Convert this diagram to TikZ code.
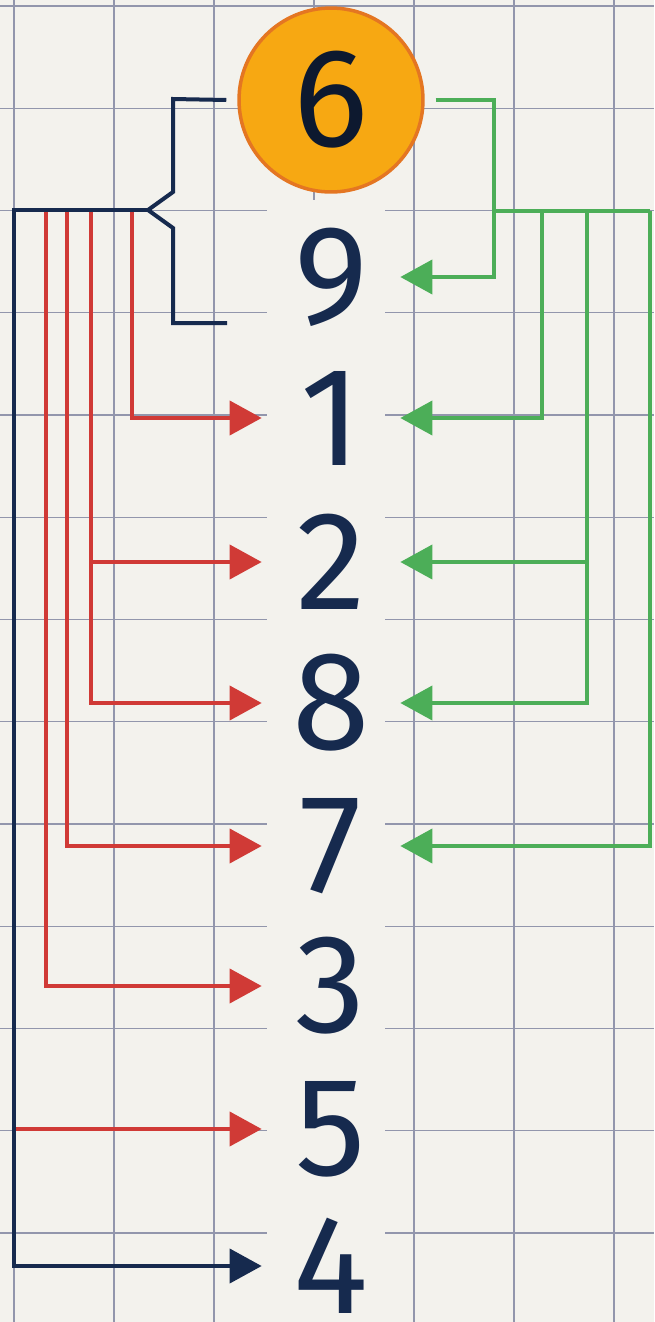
\documentclass[tikz,border=0pt]{standalone}
\usepackage{fontspec}
\setmainfont{Fira Sans}
\usetikzlibrary{positioning,arrows.meta,calc}
\definecolor{paper}{RGB}{243,242,237}
\definecolor{gridc}{RGB}{146,150,172}
\definecolor{navy}{RGB}{22,42,78}
\definecolor{arred}{RGB}{208,58,54}
\definecolor{argreen}{RGB}{76,174,88}
\definecolor{dotfill}{RGB}{247,168,18}
\definecolor{dotrim}{RGB}{228,118,34}
\tikzset{
  redarr/.style={-{Triangle[length=0.64cm,width=0.68cm]},line width=0.08cm,draw=arred},
  greenarr/.style={-{Triangle[length=0.64cm,width=0.68cm]},line width=0.08cm,draw=argreen},
  navyarr/.style={-{Triangle[length=0.64cm,width=0.68cm]},line width=0.08cm,draw=navy},
  gridline/.style={draw=gridc,line width=0.028cm},
  digit/.style={inner sep=0pt,minimum width=2.76cm,minimum height=1cm,text=navy,
                font=\fontsize{80}{82}\selectfont},
  topdigit/.style={circle,inner sep=0pt,minimum size=3.68cm,fill=dotfill,draw=dotrim,
                   line width=0.07cm,text=navy!60!black,font=\fontsize{80}{82}\selectfont}
}
\begin{document}
\begin{tikzpicture}[x=0.02cm,y=-0.02cm]
\useasboundingbox (0,0) rectangle (654,1322);
\fill[paper] (0,0) rectangle (654,1322);
% squared paper
\foreach \x in {14,114,...,614} \draw[gridline] (\x,0) -- (\x,1322);
\foreach \i in {0,...,12} \draw[gridline] (0,{6+102.25*\i}) -- (654,{6+102.25*\i});
\fill[paper] (267,200) rectangle (385,1322);

% the numbers
\node[topdigit] (n6) at (331,100) {6};
\node[digit] (n9) at (331,277) {9};
\node[digit] (n1) at (331,418) {1};
\node[digit] (n2) at (331,562) {2};
\node[digit] (n8) at (331,703) {8};
\node[digit] (n7) at (331,846) {7};
\node[digit] (n3) at (331,986) {3};
\node[digit] (n5) at (331,1129) {5};
\node[digit] (n4) at (331,1266) {4};

% left side
\coordinate (hub) at (148,210);
\coordinate (lft) at (14,210);
\coordinate (brtop) at ($(n6.west)+(-11,0)$);
\coordinate (brbot) at (227,323);
\foreach \x [count=\i] in {132,91,67,46} \coordinate (rb\i) at (\x,210);

\draw[redarr] (rb1) |- (n1.west);
\draw[redarr] (rb2 |- n2.west) -- (n2.west);
\draw[redarr] (rb2) |- (n8.west);
\draw[redarr] (rb3) |- (n7.west);
\draw[redarr] (rb4) |- (n3.west);
\draw[redarr] (lft |- n5.west) -- (n5.west);

\draw[line width=0.08cm,navy] (brtop) -- (173,99) -- (173,192) -- (hub) -- (173,228) -- (173,323) -- (brbot);
\draw[navyarr] (hub) -- (lft) |- (n4.west);

% right side
\coordinate (gs) at ($(n6.east)+(11,0)$);
\coordinate (gv) at (494,100);
\foreach \x [count=\i] in {542,587,650} \coordinate (gb\i) at (\x,211);

\draw[line width=0.08cm,argreen] (gv |- gb1) -- (gb3);
\draw[greenarr] (gs) -- (gv) |- (n9.east);
\draw[greenarr] (gb1) |- (n1.east);
\draw[greenarr] (gb2 |- n2.east) -- (n2.east);
\draw[greenarr] (gb2) |- (n8.east);
\draw[greenarr] (gb3) |- (n7.east);
\end{tikzpicture}
\end{document}
